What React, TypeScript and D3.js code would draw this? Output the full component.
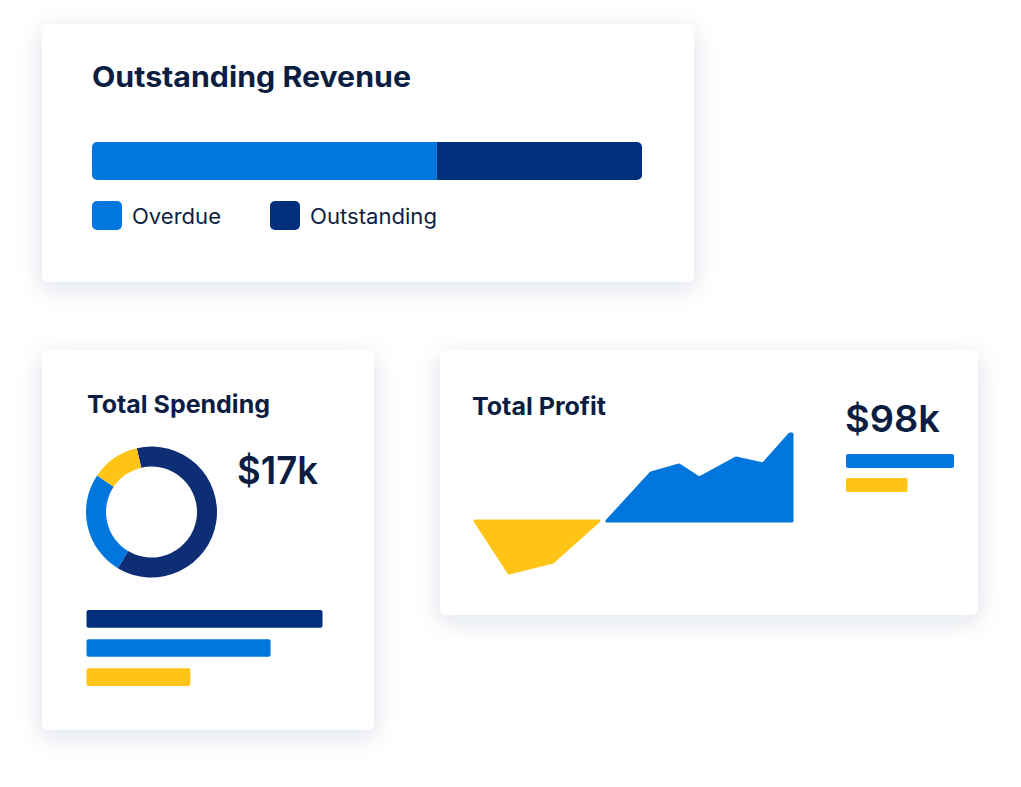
import React from "react";
import * as d3 from "d3";

// ---------- data ----------
const revenueCategories = ["Overdue", "Outstanding"];
const revenueValues = [62.7, 37.3];

const spendingCategories = ["Category A", "Category B", "Category C"];
const spendingDonutValues = [62.2, 25.8, 12.0];
const spendingBarValues = [100, 78, 44];
const spendingTotal = "$17k";

const profitNegX = [0, 10.7, 24.6, 39.1];
const profitNegY = [0, -52, -41, 0];
const profitPosX = [41.6, 55.5, 64.4, 70.7, 82.3, 90.9, 99.3, 100];
const profitPosY = [0, 48, 56, 43, 63, 57, 87, 87];
const profitBarValues = [100, 57];
const profitTotal = "$98k";

// ---------- style ----------
const C_LIGHT = "#0176dc";
const C_DARK = "#012f7b";
const C_DONUT_DARK = "#0d2e74";
const C_YELLOW = "#ffc416";
const C_TEXT = "#0b1e42";
const FONT = "Inter, 'Noto Sans', sans-serif";

function Card({ x, y, w, h }: { x: number; y: number; w: number; h: number }) {
  return <rect x={x} y={y} width={w} height={h} rx={7} fill="#fff" filter="url(#shadow)" />;
}

function Label(props: {
  x: number;
  y: number;
  size: number;
  weight?: number;
  len: number;
  children: React.ReactNode;
}) {
  return (
    <text
      x={props.x}
      y={props.y}
      fontSize={props.size}
      fontWeight={props.weight ?? 400}
      fill={C_TEXT}
      textLength={props.len}
      lengthAdjust="spacingAndGlyphs"
    >
      {props.children}
    </text>
  );
}

export default function App() {
  // Revenue bar
  const revScale = d3.scaleLinear().domain([0, d3.sum(revenueValues)]).range([92, 642]);
  const revStacks: { x0: number; x1: number; c: string }[] = [];
  let acc = 0;
  revenueValues.forEach((v, i) => {
    revStacks.push({ x0: revScale(acc), x1: revScale(acc + v), c: i === 0 ? C_LIGHT : C_DARK });
    acc += v;
  });

  // Donut
  const startA = (-13 * Math.PI) / 180;
  const pie = d3
    .pie<number>()
    .sort(null)
    .startAngle(startA)
    .endAngle(startA + Math.PI * 2)(spendingDonutValues);
  const arc = d3.arc<d3.PieArcDatum<number>>().innerRadius(45.5).outerRadius(65.5);
  const donutColors = [C_DONUT_DARK, C_LIGHT, C_YELLOW];

  // Spending bars
  const spScale = d3.scaleLinear().domain([0, 100]).range([0, 236]);
  const spColors = [C_DARK, C_LIGHT, C_YELLOW];
  const spY = d3.scaleBand().domain(spendingCategories).range([610, 686]).paddingInner(0.393);

  // Profit area
  const px = d3.scaleLinear().domain([0, 100]).range([475, 792]);
  const py = d3.scaleLinear().domain([0, 88]).range([521, 433]);
  const area = d3
    .area<[number, number]>()
    .x((d) => px(d[0]))
    .y0(py(0))
    .y1((d) => py(d[1]));
  const negPath = area(profitNegX.map((x, i) => [x, profitNegY[i]]) as [number, number][]) || "";
  const posPath = area(profitPosX.map((x, i) => [x, profitPosY[i]]) as [number, number][]) || "";

  const pbScale = d3.scaleLinear().domain([0, 100]).range([0, 108]);

  return (
    <svg
      width={1021}
      height={787}
      style={{ position: "absolute", left: 0, top: 0, background: "#fff" }}
      fontFamily={FONT}
    >
      <defs>
        <filter id="shadow" x="-20%" y="-20%" width="140%" height="150%">
          <feDropShadow dx="0" dy="6" stdDeviation="12" floodColor="#1a2a50" floodOpacity="0.13" />
        </filter>
        <clipPath id="revClip">
          <rect x={92} y={142} width={550} height={38} rx={5} />
        </clipPath>
      </defs>

      {/* Card 1: Outstanding Revenue */}
      <Card x={42} y={24} w={652} h={258} />
      <Label x={92} y={87} size={28} weight={700} len={319}>
        Outstanding Revenue
      </Label>
      <g clipPath="url(#revClip)">
        {revStacks.map((s, i) => (
          <rect key={i} x={s.x0} y={142} width={s.x1 - s.x0} height={38} fill={s.c} />
        ))}
      </g>
      {revenueCategories.map((c, i) => {
        const lx = [92, 270][i];
        return (
          <g key={c}>
            <rect x={lx} y={201} width={30} height={29} rx={5} fill={i === 0 ? C_LIGHT : C_DARK} />
            <Label x={lx + 40} y={223.5} size={21} len={[89, 127][i]}>
              {c}
            </Label>
          </g>
        );
      })}

      {/* Card 2: Total Spending */}
      <Card x={42} y={350} w={332} h={380} />
      <Label x={87} y={413} size={24.5} weight={700} len={183}>
        Total Spending
      </Label>
      <g transform="translate(151.5,512)">
        {pie.map((d, i) => (
          <path key={i} d={arc(d) || ""} fill={donutColors[i]} />
        ))}
      </g>
      <Label x={237} y={484} size={38} weight={600} len={81}>
        {spendingTotal}
      </Label>
      {spendingBarValues.map((v, i) => (
        <rect
          key={i}
          x={86.5}
          y={spY(spendingCategories[i])}
          width={spScale(v)}
          height={spY.bandwidth()}
          rx={2}
          fill={spColors[i]}
        />
      ))}

      {/* Card 3: Total Profit */}
      <Card x={440} y={350} w={538} h={265} />
      <Label x={472} y={415} size={24.5} weight={700} len={134}>
        Total Profit
      </Label>
      <path d={negPath} fill={C_YELLOW} stroke={C_YELLOW} strokeWidth={3} strokeLinejoin="round" />
      <path d={posPath} fill={C_LIGHT} stroke={C_LIGHT} strokeWidth={3} strokeLinejoin="round" />
      <Label x={845} y={432} size={37.5} weight={600} len={95}>
        {profitTotal}
      </Label>
      {profitBarValues.map((v, i) => (
        <rect
          key={i}
          x={846}
          y={[454, 478][i]}
          width={pbScale(v)}
          height={14}
          rx={2}
          fill={i === 0 ? C_LIGHT : C_YELLOW}
        />
      ))}
    </svg>
  );
}
